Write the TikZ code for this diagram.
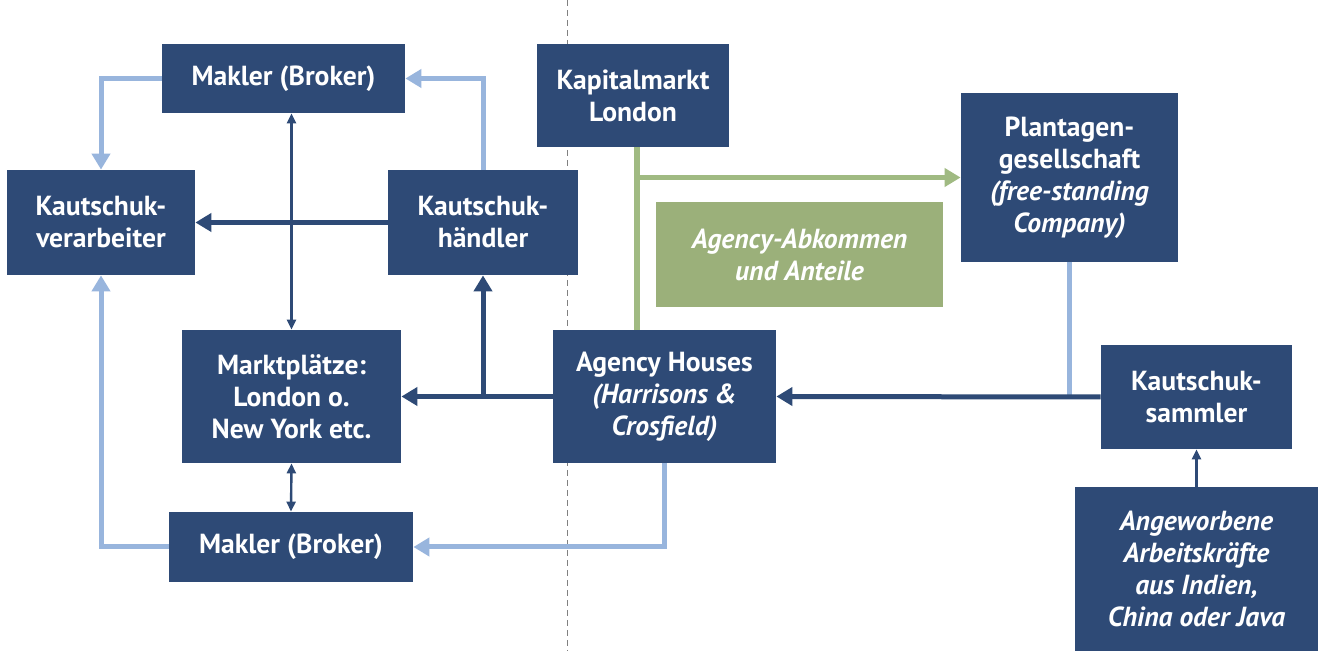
\documentclass[tikz,border=0pt]{standalone}
\usepackage{fontspec}
\setmainfont{PT Sans}
\usetikzlibrary{arrows.meta}
\definecolor{navy}{RGB}{46,74,118}
\definecolor{paleblue}{RGB}{152,181,221}
\definecolor{sage}{RGB}{155,176,122}
\definecolor{sageline}{RGB}{160,186,130}
\begin{document}
\begin{tikzpicture}[x=0.5pt,y=-0.5pt,
  box/.style={fill=navy,text=white,align=center,inner sep=0pt,
    font=\fontsize{13.8}{16}\selectfont\bfseries},
  gbox/.style={box,fill=sage},
  dk/.style={navy,line width=2.5pt,-{Triangle[length=8pt,width=9pt]}},
  lb/.style={paleblue,line width=2.5pt,-{Triangle[length=8pt,width=9pt]}},
  gl/.style={sageline,line width=2.8pt},
  thin/.style={navy,line width=1.2pt,{Triangle[length=5pt,width=4.5pt]}-{Triangle[length=5pt,width=4.5pt]}}]
\useasboundingbox (0,0) rectangle (1318,651);
\fill[white] (0,0) rectangle (1318,651);
\draw[gray,line width=0.5pt,dash pattern=on 3pt off 2pt] (567,0) -- (567,651);

\node[box,minimum width=121.5pt,minimum height=34.5pt] (mkA) at (283.5,78.5) {Makler (Broker)};
\node[box,minimum width=94pt,minimum height=52.5pt] (kv) at (101,222.5) {Kautschuk-\\verarbeiter};
\node[box,minimum width=95pt,minimum height=52.5pt] (kh) at (483,222.5) {Kautschuk-\\händler};
\node[box,minimum width=96pt,minimum height=51.5pt] (kl) at (633,95.5) {Kapitalmarkt\\London};
\node[box,minimum width=108.5pt,minimum height=84.5pt] (pg) at (1069.5,177.5) {Plantagen-\\gesellschaft\\\textit{(free-standing}\\\textit{Company)}};
\node[gbox,minimum width=143.5pt,minimum height=52.5pt] (aa) at (799.5,254.5) {\textit{Agency-Abkommen}\\\textit{und Anteile}};
\node[box,minimum width=109.5pt,minimum height=66.5pt] (mp) at (291.5,396.5) {Marktplätze:\\London o.\\New York etc.};
\node[box,minimum width=111.5pt,minimum height=66.5pt] (ah) at (664.5,396.5) {Agency Houses\\\textit{(Harrisons \&}\\\textit{Crosfield)}};
\node[box,minimum width=95.5pt,minimum height=52pt] (ks) at (1196.5,397) {Kautschuk-\\sammler};
\node[box,minimum width=122pt,minimum height=35pt] (mkB) at (291,547) {Makler (Broker)};
\node[box,minimum width=121.5pt,minimum height=82pt] (aw) at (1196.5,569) {\textit{Angeworbene}\\\textit{Arbeitskräfte}\\\textit{aus Indien,}\\\textit{China oder Java}};

\coordinate (gx) at (637,0);

\draw[lb] (mkA.west) -| (kv.north);
\draw[lb] (kh.north) |- (mkA.east);
\draw[dk] (kh.west) -- (kv.east);
\draw[thin] (mp.north |- mkA.south) -- (mp.north);
\draw[dk] (ah.west) -- (mp.east);
\draw[dk] (kh.south |- ah.west) -- (kh.south);
\draw[thin] (mp.south) -- (mkB.north);
\draw[lb] (ah.south) |- (mkB.east);
\draw[lb] (mkB.west) -| (kv.south);
\draw[gl] (gx |- kl.south) -- (gx |- ah.north);
\draw[gl,-{Triangle[length=8pt,width=9pt]}] (gx |- pg.west) -- (pg.west);
\draw[paleblue,line width=2.5pt] (pg.south) -- (pg.south |- ks.west);
\draw[dk] (ks.west) -- (ah.east);
\draw[navy,line width=1.2pt,-{Triangle[length=5pt,width=4.5pt]}] (ks.south |- aw.north) -- (ks.south);
\end{tikzpicture}
\end{document}
